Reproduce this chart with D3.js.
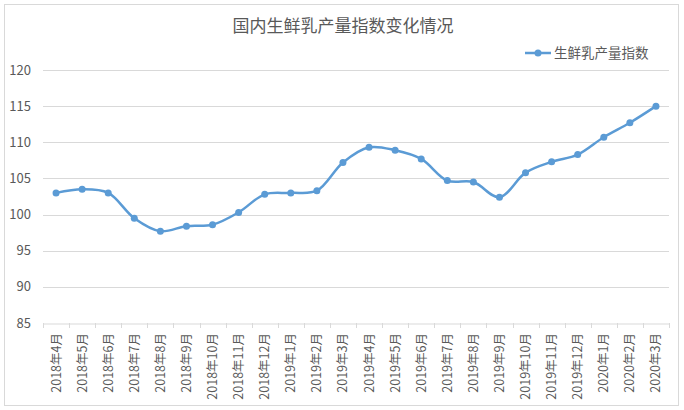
<!DOCTYPE html>
<html>
<head>
<meta charset="utf-8">
<script src="https://cdn.jsdelivr.net/npm/d3@7"></script>
<style>
  body { margin: 0; background: #fff; }
  text { font-family: "Noto Sans CJK SC", "DejaVu Sans", sans-serif; }
</style>
</head>
<body>
<div id="chart"></div>
<script>
// Data arrays
let months = ["2018年4月","2018年5月","2018年6月","2018年7月","2018年8月","2018年9月",
  "2018年10月","2018年11月","2018年12月","2019年1月","2019年2月","2019年3月",
  "2019年4月","2019年5月","2019年6月","2019年7月","2019年8月","2019年9月",
  "2019年10月","2019年11月","2019年12月","2020年1月","2020年2月","2020年3月"];
let milkIndex = [103.0,103.5,103.0,99.5,97.7,98.4,98.6,100.3,102.8,103.0,103.3,107.2,
  109.3,108.9,107.7,104.7,104.5,102.4,105.8,107.3,108.3,110.7,112.7,115.0];
let yTicks = [85,90,95,100,105,110,115,120];
let seriesName = "生鲜乳产量指数";
let chartTitle = "国内生鲜乳产量指数变化情况";

let width = 684, height = 410;
let margin = {left: 43, right: 15, top: 70, bottom: 87};
let blue = "#5B9BD5", grey = "#595959";

let svg = d3.select("#chart")
  .append("svg")
  .attr("width", width)
  .attr("height", height);

// outer frame
svg.append("rect")
  .attr("x", 4.5).attr("y", 4.5)
  .attr("width", 674).attr("height", 401)
  .attr("fill", "#fff")
  .attr("stroke", "#d9d9d9");

let x = d3.scaleBand()
  .domain(months)
  .range([margin.left, width - margin.right]);

let y = d3.scaleLinear()
  .domain([85, 120])
  .range([height - margin.bottom, margin.top]);

// gridlines
svg.append("g")
  .selectAll("line")
  .data(yTicks.slice(1))
  .enter()
  .append("line")
  .attr("x1", margin.left)
  .attr("x2", width - margin.right)
  .attr("y1", d => Math.round(y(d)) + 0.5)
  .attr("y2", d => Math.round(y(d)) + 0.5)
  .attr("stroke", "#d9d9d9");

// y axis labels
svg.append("g")
  .selectAll("text")
  .data(yTicks)
  .enter()
  .append("text")
  .attr("x", 31)
  .attr("y", d => y(d))
  .attr("dy", "0.35em")
  .attr("text-anchor", "end")
  .attr("fill", grey)
  .style("font-size", "13px")
  .text(d => d);

// x axis
let xAxis = svg.append("g")
  .attr("transform", `translate(0,${Math.round(y(85)) + 0.5})`)
  .call(d3.axisBottom(x).tickSize(0).tickFormat(""));
xAxis.select(".domain").attr("stroke", "#d9d9d9");

svg.append("g")
  .selectAll("line")
  .data(d3.range(months.length + 1))
  .enter()
  .append("line")
  .attr("x1", i => Math.round(margin.left + i * x.step()) + 0.5)
  .attr("x2", i => Math.round(margin.left + i * x.step()) + 0.5)
  .attr("y1", y(85))
  .attr("y2", y(85) + 5)
  .attr("stroke", "#d9d9d9");

svg.append("g")
  .selectAll("text")
  .data(months)
  .enter()
  .append("text")
  .attr("transform", d => `translate(${x(d) + x.bandwidth() / 2 + 4.5},${y(85) + 10}) rotate(-90)`)
  .attr("text-anchor", "end")
  .attr("fill", grey)
  .style("font-size", "12.5px")
  .text(d => d);

// line
let line = d3.line()
  .x((d, i) => x(months[i]) + x.bandwidth() / 2)
  .y(d => y(d))
  .curve(d3.curveCatmullRom.alpha(0.5));

svg.append("path")
  .datum(milkIndex)
  .attr("d", line)
  .attr("fill", "none")
  .attr("stroke", blue)
  .attr("stroke-width", 2.5);

svg.append("g")
  .selectAll("circle")
  .data(milkIndex)
  .enter()
  .append("circle")
  .attr("cx", (d, i) => x(months[i]) + x.bandwidth() / 2)
  .attr("cy", d => y(d))
  .attr("r", 3.5)
  .attr("fill", blue);

// title
svg.append("text")
  .attr("x", 343)
  .attr("y", 32)
  .attr("text-anchor", "middle")
  .attr("fill", grey)
  .style("font-size", "17px")
  .text(chartTitle);

// legend
let legend = svg.append("g").attr("transform", "translate(525,53)");
legend.append("line")
  .attr("x1", 0).attr("x2", 26)
  .attr("stroke", blue).attr("stroke-width", 2.5);
legend.append("circle")
  .attr("cx", 13).attr("r", 3.5).attr("fill", blue);
legend.append("text")
  .attr("x", 29).attr("dy", "0.35em")
  .attr("fill", grey)
  .style("font-size", "13.5px")
  .text(seriesName);
</script>
</body>
</html>
